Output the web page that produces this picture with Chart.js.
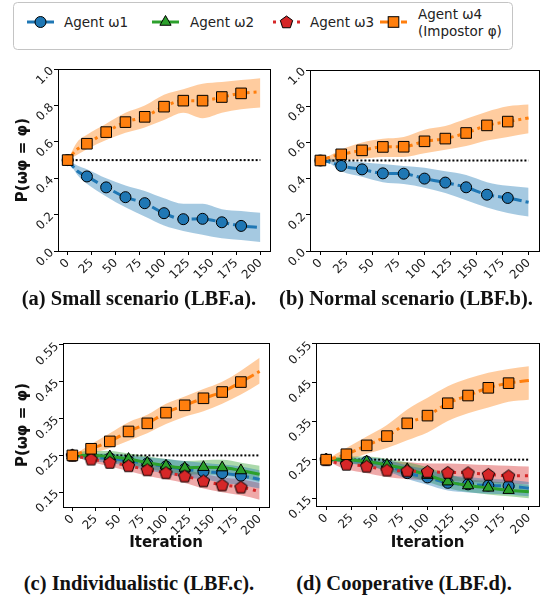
<!DOCTYPE html>
<html>
<head>
<meta charset="utf-8">
<script src="https://cdn.jsdelivr.net/npm/chart.js@4.4.1/dist/chart.umd.min.js"></script>
<style>
  body { margin: 0; background: #fff; width: 551px; height: 603px; position: relative; overflow: hidden; font-family: 'DejaVu Sans'; }
  canvas { position: absolute; }
  .cap { position: absolute; font-family: 'Liberation Serif'; font-weight: bold; font-size: 20.5px; white-space: nowrap; transform: translate(-50%, -50%); color: #111; }
  #legend { position: absolute; left: 13px; top: 2px; }
</style>
</head>
<body>
<svg id="legend" width="501" height="49"></svg>
<canvas id="pa" width="280" height="230" style="left:0px;top:60px"></canvas>
<canvas id="pb" width="271" height="230" style="left:280px;top:60px"></canvas>
<canvas id="pc" width="280" height="230" style="left:0px;top:330px"></canvas>
<canvas id="pd" width="271" height="230" style="left:280px;top:330px"></canvas>
<div class="cap" style="left:139px;top:298px">(a) Small scenario (LBF.a).</div>
<div class="cap" style="left:406px;top:298px">(b) Normal scenario (LBF.b).</div>
<div class="cap" style="left:139px;top:583px">(c) Individualistic (LBF.c).</div>
<div class="cap" style="left:404px;top:583px">(d) Cooperative (LBF.d).</div>
<script>
// iterations where the curves are sampled
const ITER = [0, 10, 20, 40, 60, 80, 100, 120, 140, 160, 180, 200];
const X_TICKS = [0, 25, 50, 75, 100, 125, 150, 175, 200];
const Y_TICKS_AB = [0.0, 0.2, 0.4, 0.6, 0.8, 1.0];
const Y_TICKS_CD = [0.15, 0.25, 0.35, 0.45, 0.55];
const AGENT_LABELS = ['Agent ω1', 'Agent ω2', 'Agent ω3', 'Agent ω4', '(Impostor φ)'];
const Y_TITLE = 'P(ωφ = φ)';
const X_TITLE = 'Iteration';

// (a) Small scenario
const a_w1 = [0.50, 0.44, 0.41, 0.35, 0.296, 0.263, 0.208, 0.175, 0.177, 0.158, 0.138, 0.129];
const a_w1_hi = [0.50, 0.47, 0.45, 0.40, 0.36, 0.33, 0.29, 0.26, 0.26, 0.23, 0.22, 0.21];
const a_w1_lo = [0.50, 0.42, 0.37, 0.30, 0.24, 0.19, 0.14, 0.11, 0.09, 0.07, 0.06, 0.05];
const a_w4 = [0.50, 0.56, 0.59, 0.654, 0.709, 0.738, 0.794, 0.827, 0.827, 0.847, 0.867, 0.876];
const a_w4_hi = [0.50, 0.60, 0.64, 0.70, 0.76, 0.80, 0.86, 0.89, 0.92, 0.93, 0.94, 0.95];
const a_w4_lo = [0.50, 0.53, 0.56, 0.61, 0.65, 0.68, 0.72, 0.76, 0.73, 0.76, 0.78, 0.79];

// (b) Normal scenario
const b_w1 = [0.50, 0.49, 0.47, 0.451, 0.429, 0.427, 0.40, 0.378, 0.352, 0.311, 0.293, 0.269];
const b_w1_hi = [0.50, 0.51, 0.50, 0.49, 0.48, 0.47, 0.46, 0.44, 0.42, 0.38, 0.36, 0.35];
const b_w1_lo = [0.50, 0.48, 0.44, 0.41, 0.38, 0.37, 0.35, 0.32, 0.28, 0.24, 0.21, 0.19];
const b_w4 = [0.50, 0.52, 0.534, 0.556, 0.575, 0.576, 0.606, 0.621, 0.652, 0.694, 0.715, 0.735];
const b_w4_hi = [0.50, 0.53, 0.56, 0.60, 0.62, 0.63, 0.67, 0.69, 0.73, 0.77, 0.80, 0.81];
const b_w4_lo = [0.50, 0.49, 0.50, 0.51, 0.52, 0.52, 0.54, 0.56, 0.58, 0.61, 0.63, 0.65];

// (c) Individualistic
const c_w1 = [0.25, 0.248, 0.245, 0.242, 0.235, 0.228, 0.22, 0.213, 0.206, 0.202, 0.195, 0.185];
const c_w1_hi = [0.25, 0.255, 0.255, 0.255, 0.25, 0.245, 0.24, 0.235, 0.23, 0.225, 0.22, 0.21];
const c_w1_lo = [0.25, 0.24, 0.235, 0.23, 0.22, 0.21, 0.20, 0.19, 0.185, 0.175, 0.17, 0.16];
const c_w2 = [0.25, 0.25, 0.25, 0.247, 0.24, 0.23, 0.222, 0.216, 0.218, 0.217, 0.209, 0.199];
const c_w2_hi = [0.25, 0.26, 0.262, 0.262, 0.255, 0.248, 0.24, 0.235, 0.237, 0.238, 0.23, 0.222];
const c_w2_lo = [0.25, 0.243, 0.24, 0.235, 0.225, 0.215, 0.205, 0.198, 0.198, 0.196, 0.19, 0.178];
const c_w3 = [0.25, 0.245, 0.24, 0.231, 0.222, 0.211, 0.203, 0.194, 0.181, 0.17, 0.164, 0.152];
const c_w3_hi = [0.25, 0.25, 0.248, 0.242, 0.235, 0.226, 0.22, 0.212, 0.20, 0.19, 0.185, 0.175];
const c_w3_lo = [0.25, 0.24, 0.232, 0.22, 0.208, 0.195, 0.185, 0.175, 0.16, 0.15, 0.142, 0.13];
const c_w4 = [0.25, 0.258, 0.268, 0.288, 0.315, 0.337, 0.366, 0.386, 0.405, 0.422, 0.449, 0.478];
const c_w4_hi = [0.25, 0.265, 0.28, 0.31, 0.34, 0.36, 0.39, 0.41, 0.43, 0.45, 0.48, 0.515];
const c_w4_lo = [0.25, 0.25, 0.255, 0.27, 0.29, 0.31, 0.335, 0.355, 0.37, 0.39, 0.415, 0.445];

// (d) Cooperative
const d_w1 = [0.25, 0.25, 0.248, 0.245, 0.235, 0.215, 0.204, 0.19, 0.186, 0.183, 0.182, 0.176];
const d_w1_hi = [0.25, 0.255, 0.255, 0.255, 0.25, 0.235, 0.225, 0.21, 0.205, 0.20, 0.198, 0.192];
const d_w1_lo = [0.25, 0.245, 0.24, 0.235, 0.22, 0.20, 0.185, 0.17, 0.165, 0.162, 0.16, 0.155];
const d_w2 = [0.25, 0.25, 0.25, 0.245, 0.236, 0.225, 0.21, 0.193, 0.183, 0.177, 0.171, 0.167];
const d_w2_hi = [0.25, 0.257, 0.258, 0.258, 0.252, 0.243, 0.23, 0.212, 0.20, 0.195, 0.19, 0.185];
const d_w2_lo = [0.25, 0.245, 0.242, 0.234, 0.222, 0.208, 0.192, 0.176, 0.166, 0.16, 0.155, 0.15];
const d_w3 = [0.25, 0.242, 0.238, 0.233, 0.223, 0.221, 0.219, 0.217, 0.216, 0.212, 0.208, 0.208];
const d_w3_hi = [0.25, 0.25, 0.25, 0.248, 0.245, 0.243, 0.24, 0.24, 0.238, 0.236, 0.234, 0.232];
const d_w3_lo = [0.25, 0.235, 0.225, 0.215, 0.205, 0.20, 0.197, 0.195, 0.193, 0.19, 0.188, 0.186];
const d_w4 = [0.25, 0.256, 0.264, 0.287, 0.311, 0.344, 0.364, 0.396, 0.416, 0.436, 0.448, 0.455];
const d_w4_hi = [0.25, 0.265, 0.28, 0.31, 0.34, 0.38, 0.41, 0.44, 0.46, 0.475, 0.485, 0.492];
const d_w4_lo = [0.25, 0.25, 0.25, 0.265, 0.28, 0.30, 0.32, 0.35, 0.37, 0.385, 0.40, 0.405];

// pentagon marker for agent 3
function pentagonMarker(size, r) {
  const c = document.createElement('canvas');
  c.width = size; c.height = size;
  const g = c.getContext('2d');
  g.beginPath();
  for (let i = 0; i < 5; i++) {
    const ang = -Math.PI / 2 + i * 2 * Math.PI / 5;
    const px = size / 2 + r * Math.cos(ang), py = size / 2 + 0.5 + r * Math.sin(ang);
    if (i === 0) g.moveTo(px, py); else g.lineTo(px, py);
  }
  g.closePath();
  g.fillStyle = '#d62728';
  g.fill();
  g.lineWidth = 1;
  g.strokeStyle = '#000';
  g.stroke();
  return c;
}

const STYLE = {
  w1: { color: '#1f77b4', band: 'rgba(31,119,180,0.4)', dash: [10, 4], marker: 'circle', r: 5.5, order: 4 },
  w2: { color: '#2ca02c', band: 'rgba(44,160,44,0.4)', dash: [], marker: 'triangle', r: 6.5, order: 3 },
  w3: { color: '#d62728', band: 'rgba(214,39,40,0.4)', dash: [3, 5], marker: pentagonMarker(15, 6.5), r: 6, order: 2 },
  w4: { color: '#ff7f0e', band: 'rgba(255,127,14,0.4)', dash: [10, 4, 3, 4], marker: 'rect', r: 7.5, order: 1 }
};

const pts = arr => arr.map((v, i) => ({ x: ITER[i], y: v }));

function buildDatasets(series, ref) {
  const ds = [];
  series.forEach(s => {
    const st = STYLE[s.key];
    ds.push({ data: pts(s.hi), fill: '+1', backgroundColor: st.band, borderWidth: 0, pointRadius: 0, order: 20, cubicInterpolationMode: 'monotone' });
    ds.push({ data: pts(s.lo), fill: false, borderWidth: 0, pointRadius: 0, order: 20, cubicInterpolationMode: 'monotone' });
  });
  ds.push({
    data: [{ x: 0, y: ref }, { x: 200, y: ref }],
    borderColor: '#000', borderWidth: 2, borderDash: [2, 2], pointRadius: 0, fill: false, order: 5
  });
  series.forEach(s => {
    const st = STYLE[s.key];
    ds.push({
      data: pts(s.mean),
      borderColor: st.color,
      borderWidth: 3,
      borderDash: st.dash,
      fill: false,
      cubicInterpolationMode: 'monotone',
      pointStyle: st.marker,
      pointBackgroundColor: st.color,
      pointBorderColor: '#000',
      pointBorderWidth: 1,
      pointRadius: ctx => (ITER[ctx.dataIndex] % 20 === 0 && ITER[ctx.dataIndex] <= 180) ? st.r : 0,
      order: st.order
    });
  });
  return ds;
}

const frame = {
  id: 'frame',
  afterDraw(chart) {
    const { ctx, chartArea: a } = chart;
    ctx.save();
    ctx.strokeStyle = '#000';
    ctx.lineWidth = 1;
    ctx.strokeRect(Math.round(a.left) + 0.5, Math.round(a.top) + 0.5, Math.round(a.right - a.left), Math.round(a.bottom - a.top));
    ctx.restore();
  }
};

Chart.defaults.font.family = 'DejaVu Sans';
Chart.defaults.color = '#1a1a1a';

function makePanel(id, p) {
  const yTicks = p.yTicks;
  new Chart(document.getElementById(id), {
    type: 'line',
    data: { datasets: buildDatasets(p.series, p.ref) },
    plugins: [frame],
    options: {
      responsive: false,
      animation: false,
      events: [],
      layout: { padding: { left: 0, top: p.padTop, right: p.padRight, bottom: 0 } },
      plugins: { legend: { display: false }, tooltip: { enabled: false } },
      scales: {
        x: {
          type: 'linear', min: -10, max: 210,
          afterBuildTicks: s => { s.ticks = X_TICKS.map(v => ({ value: v })); },
          afterFit: s => { s.height = p.xh; },
          ticks: { minRotation: 45, maxRotation: 45, padding: 1, font: { size: 12 }, callback: v => String(v) },
          grid: { drawOnChartArea: false, drawTicks: true, tickLength: 4, color: '#000' },
          border: { display: false },
          title: { display: p.xTitle, text: X_TITLE, font: { size: 15, weight: 'bold' }, color: '#111', padding: { top: 0, bottom: 8 } }
        },
        y: {
          type: 'linear', min: p.yMin, max: p.yMax,
          afterBuildTicks: s => { s.ticks = yTicks.map(v => ({ value: v })); },
          afterFit: s => { s.width = p.yw; },
          ticks: { minRotation: 45, maxRotation: 45, padding: 2, font: { size: 12 }, callback: v => v.toFixed(p.dec) },
          grid: { drawOnChartArea: false, drawTicks: true, tickLength: 4, color: '#000' },
          border: { display: false },
          title: { display: p.yTitle, text: Y_TITLE, font: { size: 15, weight: 'bold' }, color: '#111', padding: { top: 14, bottom: 0 } }
        }
      }
    }
  });
}

makePanel('pa', {
  series: [
    { key: 'w1', mean: a_w1, lo: a_w1_lo, hi: a_w1_hi },
    { key: 'w4', mean: a_w4, lo: a_w4_lo, hi: a_w4_hi }
  ],
  ref: 0.5, yMin: 0, yMax: 1, yTicks: Y_TICKS_AB, dec: 1,
  padTop: 9, padRight: 10, yw: 58, xh: 39, yTitle: true, xTitle: false
});
makePanel('pb', {
  series: [
    { key: 'w1', mean: b_w1, lo: b_w1_lo, hi: b_w1_hi },
    { key: 'w4', mean: b_w4, lo: b_w4_lo, hi: b_w4_hi }
  ],
  ref: 0.5, yMin: 0, yMax: 1, yTicks: Y_TICKS_AB, dec: 1,
  padTop: 10, padRight: 12, yw: 30, xh: 39, yTitle: false, xTitle: false
});
makePanel('pc', {
  series: [
    { key: 'w1', mean: c_w1, lo: c_w1_lo, hi: c_w1_hi },
    { key: 'w2', mean: c_w2, lo: c_w2_lo, hi: c_w2_hi },
    { key: 'w3', mean: c_w3, lo: c_w3_lo, hi: c_w3_hi },
    { key: 'w4', mean: c_w4, lo: c_w4_lo, hi: c_w4_hi }
  ],
  ref: 0.25, yMin: 0.11, yMax: 0.555, yTicks: Y_TICKS_CD, dec: 2,
  padTop: 13, padRight: 11, yw: 63, xh: 53, yTitle: true, xTitle: true
});
makePanel('pd', {
  series: [
    { key: 'w1', mean: d_w1, lo: d_w1_lo, hi: d_w1_hi },
    { key: 'w2', mean: d_w2, lo: d_w2_lo, hi: d_w2_hi },
    { key: 'w3', mean: d_w3, lo: d_w3_lo, hi: d_w3_hi },
    { key: 'w4', mean: d_w4, lo: d_w4_lo, hi: d_w4_hi }
  ],
  ref: 0.25, yMin: 0.13, yMax: 0.552, yTicks: Y_TICKS_CD, dec: 2,
  padTop: 13, padRight: 12, yw: 36, xh: 54, yTitle: false, xTitle: true
});

// legend (svg, coordinates relative to the legend box)
function buildLegend() {
  const svg = document.getElementById('legend');
  const NS = 'http://www.w3.org/2000/svg';
  const el = (tag, attrs, text) => {
    const e = document.createElementNS(NS, tag);
    for (const k in attrs) e.setAttribute(k, attrs[k]);
    if (text) e.textContent = text;
    svg.appendChild(e);
    return e;
  };
  el('rect', { x: 0.5, y: 0.5, width: 499, height: 47, rx: 4, fill: '#fff', stroke: '#c4c4c4', 'stroke-width': 1 });
  const items = [
    { key: 'w1', x0: 14, tx: 51 },
    { key: 'w2', x0: 139, tx: 177 },
    { key: 'w3', x0: 260, tx: 297 },
    { key: 'w4', x0: 367, tx: 405 }
  ];
  const cy = 20;
  items.forEach((it, i) => {
    const st = STYLE[it.key];
    el('line', { x1: it.x0, y1: cy, x2: it.x0 + 27, y2: cy, stroke: st.color, 'stroke-width': 3, 'stroke-dasharray': it.key === 'w3' ? '3 5' : (it.key === 'w4' ? '10 4 3 4' : 'none') });
    const mx = it.x0 + 13.5;
    if (it.key === 'w1') el('circle', { cx: mx, cy: cy, r: 5.5, fill: st.color, stroke: '#000', 'stroke-width': 1 });
    if (it.key === 'w2') el('polygon', { points: `${mx},${cy - 6.5} ${mx + 5.6},${cy + 3.25} ${mx - 5.6},${cy + 3.25}`, fill: st.color, stroke: '#000', 'stroke-width': 1 });
    if (it.key === 'w3') {
      const p = [];
      for (let k = 0; k < 5; k++) {
        const ang = -Math.PI / 2 + k * 2 * Math.PI / 5;
        p.push((mx + 6.5 * Math.cos(ang)).toFixed(2) + ',' + (cy + 0.5 + 6.5 * Math.sin(ang)).toFixed(2));
      }
      el('polygon', { points: p.join(' '), fill: st.color, stroke: '#000', 'stroke-width': 1 });
    }
    if (it.key === 'w4') el('rect', { x: mx - 5.3, y: cy - 5.3, width: 10.6, height: 10.6, fill: st.color, stroke: '#000', 'stroke-width': 1 });
    if (it.key === 'w4') {
      el('text', { x: it.tx, y: 17, 'font-family': 'DejaVu Sans', 'font-size': 13.5, fill: '#222' }, AGENT_LABELS[3]);
      el('text', { x: it.tx, y: 34, 'font-family': 'DejaVu Sans', 'font-size': 13.5, fill: '#222' }, AGENT_LABELS[4]);
    } else {
      el('text', { x: it.tx, y: cy + 5, 'font-family': 'DejaVu Sans', 'font-size': 13.5, fill: '#222' }, AGENT_LABELS[i]);
    }
  });
}
buildLegend();
</script>
</body>
</html>
